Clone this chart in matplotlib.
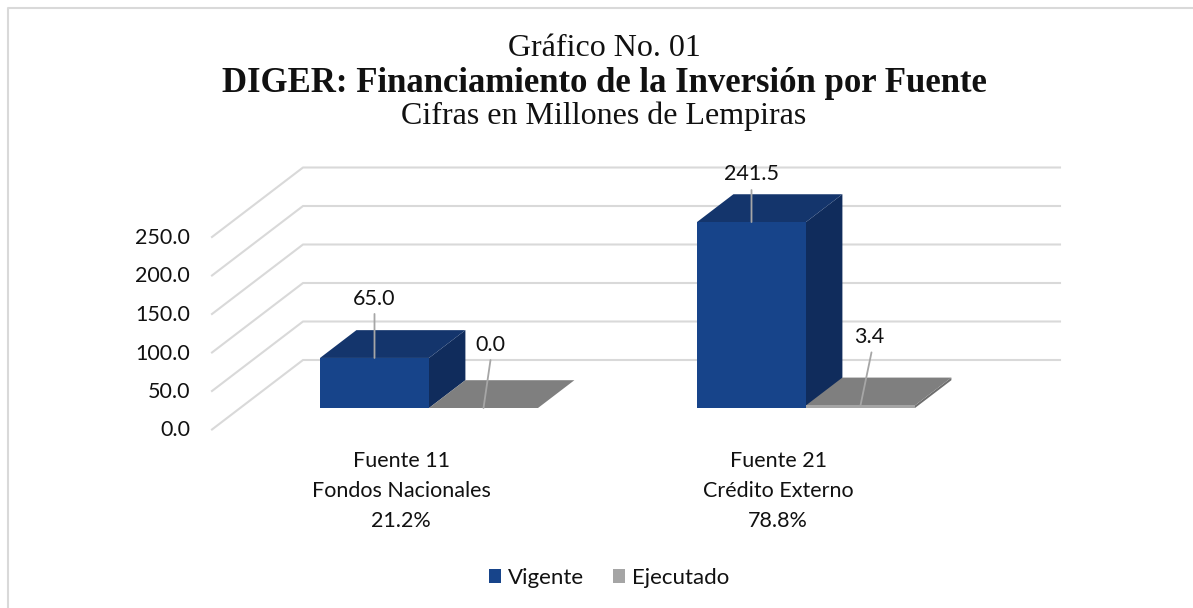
import matplotlib
matplotlib.use('Agg')
import matplotlib.pyplot as plt
from matplotlib.lines import Line2D
from matplotlib.patches import Polygon, Rectangle

categories = ['Fuente 11\nFondos Nacionales\n21.2%', 'Fuente 21\nCrédito Externo\n78.8%']
vigente = [65.0, 241.5]
ejecutado = [0.0, 3.4]
ticks = [0, 50, 100, 150, 200, 250]
W, H = 1193, 608

# px per value / per category, value 0 on the front wall sits at y=429.5
sy = 0.77
sx = 377.0
y0 = 429.5
x0 = 429

plt.rcParams['font.family'] = ['Lato', 'DejaVu Sans']
fig = plt.figure(figsize=(W / 100, H / 100), dpi=100)
ax = fig.add_axes([0, 0, 1, 1])
ax.set_xlim(-x0 / sx, (W - x0) / sx)
ax.set_ylim(-(H - y0) / sy, y0 / sy)
ax.axis('off')

# oblique depth: 0 front of floor, 1 back wall
dx = 91 / sx
dy = 69.5 / sy
def pt(x, v, d):
    return (x + d * dx, v + d * dy)

# frame only shows on top and left
fig.add_artist(Line2D([8 / W, 8 / W, 1], [0, 1 - 8 / H, 1 - 8 / H], transform=fig.transFigure, color='#d9d9d9', lw=1.5))

# grid
x_left = (212 - x0) / sx
x_right = (1060 - x0) / sx
for t in ticks:
    a = pt(x_left, t, 0)
    b = pt(x_left, t, 1)
    c = (x_right, b[1])
    ax.plot([a[0], b[0], c[0]], [a[1], b[1], c[1]], color='#d9d9d9', lw=1.5, zorder=1)
    ax.text(x_left - 22 / sx, t - 1 / sy, '%.1f' % t, ha='right', va='center', fontsize=15.5, color='#111111')

bw = 109 / sx
d1 = 21.5 / 69.5
d2 = d1 + 0.4
def bar3d(x, v, front, top, side):
    base = pt(x, 0, d1)[1]
    off_x = (d2 - d1) * dx
    off_y = (d2 - d1) * dy
    h = base + v
    ax.add_patch(Polygon([(x + bw, base), (x + bw + off_x, base + off_y), (x + bw + off_x, h + off_y), (x + bw, h)],
                         fc=side, ec='none', zorder=3))
    ax.add_patch(Polygon([(x, h), (x + bw, h), (x + bw + off_x, h + off_y), (x + off_x, h + off_y)],
                         fc=top, ec='none', zorder=3))
    ax.add_patch(Rectangle((x, base), bw, v, fc=front, ec='none', zorder=4))

for i in range(len(categories)):
    bar3d(i - bw, vigente[i], '#17448a', '#14356c', '#102c5c')
    bar3d(i, ejecutado[i], '#a5a5a5', '#7f7f7f', '#6e6e6e')

# labels with leader lines, offsets in px from the bar's front top
base = 21.5 / sy
line_v = [44, 32]
text_v = [59, 48]
line_e = [(7, 48), (11, 53)]
text_e = [(7, 63), (9, 68)]
def px(n):
    return n * 0.72
leader = dict(arrowstyle='-', color='#a6a6a6', lw=1.3, shrinkA=0, shrinkB=0)
for i in range(len(categories)):
    cv = i - bw / 2
    ce = i + bw / 2
    ax.annotate('', xy=(cv, base + vigente[i]), xytext=(0, px(line_v[i])), textcoords='offset points',
                arrowprops=leader, zorder=6)
    ax.annotate('%.1f' % vigente[i], xy=(cv, base + vigente[i]), xytext=(0, px(text_v[i])), textcoords='offset points',
                ha='center', va='center', fontsize=15.5, color='#111111', zorder=6)
    ax.annotate('', xy=(ce, base + ejecutado[i]), xytext=(px(line_e[i][0]), px(line_e[i][1])), textcoords='offset points',
                arrowprops=leader, zorder=6)
    ax.annotate('%.1f' % ejecutado[i], xy=(ce, base + ejecutado[i]), xytext=(px(text_e[i][0]), px(text_e[i][1])),
                textcoords='offset points', ha='center', va='center', fontsize=15.5, color='#111111', zorder=6)
    ax.text(i - 28 / sx, -(491 - y0) / sy, categories[i], ha='center', va='center', fontsize=15.5,
            color='#111111', linespacing=1.62)

# title
serif = ['Liberation Serif', 'DejaVu Serif']
cx = 604 / W
fig.text(cx, 1 - 48 / H, 'Gráfico No. 01', ha='center', va='center', family=serif, fontsize=23, color='#111111')
fig.text(cx, 1 - 84 / H, 'DIGER: Financiamiento de la Inversión por Fuente', ha='center', va='center', family=serif,
         fontsize=25, fontweight='bold', color='#111111')
fig.text(cx, 1 - 116 / H, 'Cifras en Millones de Lempiras', ha='center', va='center', family=serif, fontsize=23, color='#111111')

# legend
handles = [Rectangle((0, 0), 1, 1, fc='#17448a'), Rectangle((0, 0), 1, 1, fc='#a5a5a5')]
fig.legend(handles, ['Vigente', 'Ejecutado'], loc='center', bbox_to_anchor=(609 / W, 1 - 578 / H), ncol=2, frameon=False,
           fontsize=16, handlelength=0.55, handleheight=0.55, handletextpad=0.3, columnspacing=1.3, labelcolor='#111111')

fig.savefig('out.png', dpi=100)
